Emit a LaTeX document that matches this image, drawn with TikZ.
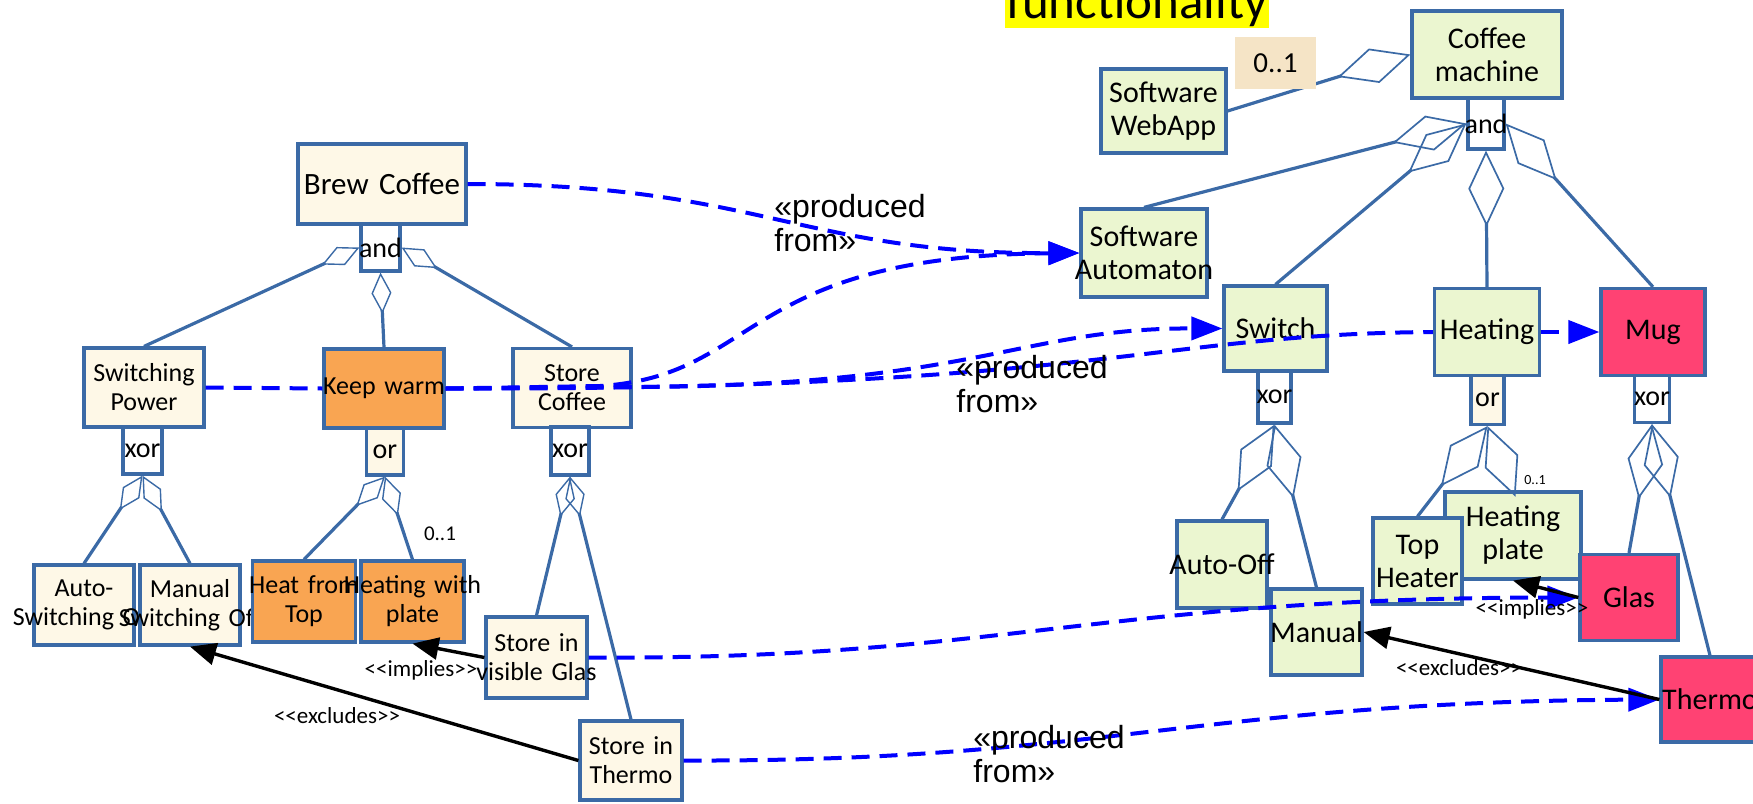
\documentclass[tikz,border=0pt]{standalone}
\usepackage{fontspec}
\setmainfont{Carlito}
\newfontfamily\arialfont{Liberation Sans}
\usetikzlibrary{arrows.meta}
\definecolor{bord}{HTML}{3B6AA6}
\definecolor{cream}{HTML}{FEF8E7}
\definecolor{lgreen}{HTML}{EBF6D0}
\definecolor{orng}{HTML}{F9A552}
\definecolor{pinkred}{HTML}{FF4273}
\definecolor{beige}{HTML}{F5E4C6}
\definecolor{dblue}{HTML}{0000FF}
\definecolor{ttlyellow}{HTML}{FFFF00}
\newcommand\ctr[1]{\makebox[\linewidth]{#1}}
\tikzset{
  fb/.style 2 args={draw=bord, line width=1.6pt, inner sep=0pt, align=center,
    text width=#1, minimum height=#2},
  lf/.style={font=\fontsize{13}{14.5}\selectfont},
  bf/.style={font=\fontsize{15.5}{17}\selectfont},
  rf/.style={font=\fontsize{15}{16.5}\selectfont},
  of/.style={font=\fontsize{14}{16}\selectfont},
  aggS/.style={draw=bord, line width=1.6pt,
    -{Diamond[open, length=20.5pt, width=10pt, line width=0.7pt]}},
  aggL/.style={draw=bord, line width=1.6pt,
    -{Diamond[open, length=38pt, width=18pt, line width=0.85pt]}},
  prodn/.style={draw=dblue, line width=2pt, dash pattern=on 9pt off 5pt},
  prod/.style={prodn, -{Triangle[length=15.5pt, width=11.5pt]}},
  rel/.style={draw=black, line width=1.7pt, -{Triangle[length=13pt, width=11pt]}},
  rlab/.style={font=\fontsize{11.5}{13}\selectfont, inner sep=0pt},
  plab/.style={font=\arialfont\fontsize{16}{16.8}\selectfont, align=left, inner sep=0pt},
}
\begin{document}
\begin{tikzpicture}[x=0.5pt,y=-0.5pt]
\useasboundingbox (0,0) rectangle (1753,804);
\clip (0,0) rectangle (1753,804);
% title
\node[fill=ttlyellow, inner xsep=1pt, inner ysep=0pt, text depth=4.5pt, anchor=base,
  font=\fontsize{25.5}{30}\selectfont] (title) at (1137,18.5) {functionality};
% ---------- left tree ----------
\node[fb={84pt}{40pt}, bf, fill=cream] (BC) at (382,184) {\ctr{Brew Coffee}};
\node[fb={19.5pt}{23.5pt}, of, fill=white] (andL) at (380.5,247.5) {\ctr{and}};
\node[fb={60pt}{39.5pt}, lf, fill=cream] (SP) at (144,387.5) {\ctr{Switching}\\\ctr{Power}};
\node[fb={60pt}{39.5pt}, lf, fill=orng] (KW) at (384,388.5) {\ctr{Keep warm}};
\node[fb={59pt}{39.5pt}, lf, fill=cream] (SC) at (572,388) {\ctr{Store}\\\ctr{Coffee}};
\node[fb={19.5pt}{23.5pt}, of, fill=white] (xorSP) at (142.5,450.5) {\ctr{xor}};
\node[fb={18.5pt}{23.5pt}, of, fill=cream] (orKW) at (385,451.5) {\ctr{or}};
\node[fb={19pt}{24pt}, of, fill=white] (xorSC) at (570,451) {\ctr{xor}};
\node[fb={50pt}{40pt}, lf, fill=cream] (ASO) at (84,605) {\ctr{Auto-}\\\ctr{Switching Off}};
\node[fb={50pt}{40pt}, lf, fill=cream] (MSO) at (190,605) {\ctr{Manual}\\\ctr{Switching Off}};
\node[fb={51.5pt}{40.5pt}, lf, fill=orng] (HfT) at (304,601.5) {\ctr{Heat from}\\\ctr{Top}};
\node[fb={51.5pt}{40.5pt}, lf, fill=orng] (HwP) at (412.5,601.5) {\ctr{Heating with}\\\ctr{plate}};
\node[fb={50.5pt}{40.5pt}, lf, fill=cream] (SvG) at (536.5,657.5) {\ctr{Store in}\\\ctr{visible Glas}};
\node[fb={51pt}{39.5pt}, lf, fill=cream] (ST) at (631,760.5) {\ctr{Store in}\\\ctr{Thermo}};
% ---------- right tree ----------
\node[fb={75pt}{43.5pt}, rf, fill=lgreen] (CM) at (1487,54.5) {\ctr{Coffee}\\\ctr{machine}};
\node[fb={18pt}{25.5pt}, of, fill=white] (andR) at (1486,123.5) {\ctr{and}};
\node[fb={62.5pt}{42pt}, rf, fill=lgreen] (WA) at (1163.5,111) {\ctr{Software}\\\ctr{WebApp}};
\node[fb={63pt}{44pt}, rf, fill=lgreen] (SA) at (1144,253) {\ctr{Software}\\\ctr{Automaton}};
\node[fb={51.5pt}{42.5pt}, rf, fill=lgreen] (Sw) at (1275.5,328.5) {\ctr{Switch}};
\node[fb={52.5pt}{43.5pt}, rf, fill=lgreen] (He) at (1487,332) {\ctr{Heating}};
\node[fb={52pt}{43.5pt}, rf, fill=pinkred] (Mug) at (1653,332) {\ctr{Mug}};
\node[fb={16.5pt}{26pt}, of, fill=white] (xorSw) at (1274.5,397) {\ctr{xor}};
\node[fb={16.5pt}{24.5pt}, of, fill=cream] (orHe) at (1487.5,400) {\ctr{or}};
\node[fb={17.5pt}{23.5pt}, of, fill=white] (xorMug) at (1652,399) {\ctr{xor}};
\node[fb={45pt}{43.5pt}, rf, fill=lgreen] (AO) at (1222,564.5) {\ctr{Auto-Off}};
\node[fb={45.5pt}{43pt}, rf, fill=lgreen] (Man) at (1316.5,632) {\ctr{Manual}};
\node[fb={68pt}{43.5pt}, rf, fill=lgreen] (HP) at (1513,535.5) {\ctr{Heating}\\\ctr{plate}};
\node[fb={44.5pt}{43pt}, rf, fill=lgreen] (TH) at (1417.5,561) {\ctr{Top}\\\ctr{Heater}};
\node[fb={49pt}{43pt}, rf, fill=pinkred] (Glas) at (1629,597.5) {\ctr{Glas}};
\node[fb={49pt}{42.5pt}, rf, fill=pinkred] (Th) at (1710,699.5) {\ctr{Thermo}};
% ---------- aggregation connectors ----------
\draw[aggS] (SP.north) -- (andL.west);
\draw[aggS] (KW.north) -- (andL.south);
\draw[aggS] (SC.north) -- (andL.east);
\draw[aggS] (ASO.north) -- (xorSP.south);
\draw[aggS] (MSO.north) -- (xorSP.south);
\draw[aggS] (HfT.north) -- (orKW.south);
\draw[aggS] (HwP.north) -- (orKW.south);
\draw[aggS] (SvG.north) -- (xorSC.south);
\draw[aggS] (ST.north) -- (xorSC.south);
\draw[aggL] (WA.east) -- (CM.west);
\draw[aggL] (SA.north) -- (andR.west);
\draw[aggL] (Sw.north) -- (andR.west);
\draw[aggL] (He.north) -- (andR.south);
\draw[aggL] (Mug.north) -- (andR.east);
\draw[aggL] (AO.north) -- (xorSw.south);
\draw[aggL] (Man.north) -- (xorSw.south);
\draw[aggL] (TH.north) -- (orHe.south);
\draw[aggL] (HP.north) -- (orHe.south);
\draw[aggL] (Glas.north) -- (xorMug.south);
\draw[aggL] (Th.north) -- (xorMug.south);
\node[fill=beige, minimum width=40.5pt, minimum height=26pt, inner sep=0pt,
  font=\fontsize{14.5}{16}\selectfont] (m0) at (1275.5,63) {0..1};
\node[font=\fontsize{10.5}{12}\selectfont, inner sep=0pt] (m1) at (440,534) {0..1};
\node[font=\fontsize{7}{8}\selectfont, inner sep=0pt] (m2) at (1535,480) {0..1};
% ---------- produced-from dependencies ----------
\draw[prod] (BC.east) .. controls (760,184) and (800,254) .. (SA.west);
\draw[prod] (KW.east) -- (600,386) .. controls (760,376) and (740,256) .. (SA.west);
\draw[prodn] (SP.east) -- (KW.west);
\draw[prod] (KW.east) -- (640,387) .. controls (980,385) and (1020,328) .. (Sw.west);
\draw[prodn] (KW.east) .. controls (1100,390) and (1150,334) .. (He.west);
\draw[prod] (He.east) -- (Mug.west);
\draw[prod] (SvG.east) .. controls (1000,660) and (1100,598) .. (Glas.west);
\draw[prod] (ST.east) .. controls (1100,762) and (1200,702) .. (Th.west);
\node[plab, anchor=base west] (p1) at (774,251) {«produced\\from»};
\node[plab, anchor=base west] (p2) at (956,412) {«produced\\from»};
\node[plab, anchor=base west] (p3) at (973,782) {«produced\\from»};
% ---------- constraints ----------
\draw[rel] (ST.west) -- (MSO.south);
\draw[rel] (SvG.west) -- (HwP.south);
\draw[rel] (Th.west) -- (Man.east);
\draw[rel] (Glas.west) -- (HP.south);
\node[rlab] (ex1) at (337,716) {<{}<excludes>{}>};
\node[rlab] (im1) at (421,670) {<{}<implies>{}>};
\node[rlab] (ex2) at (1459,668) {<{}<excludes>{}>};
\node[rlab] (im2) at (1532,609) {<{}<implies>{}>};
\end{tikzpicture}
\end{document}
